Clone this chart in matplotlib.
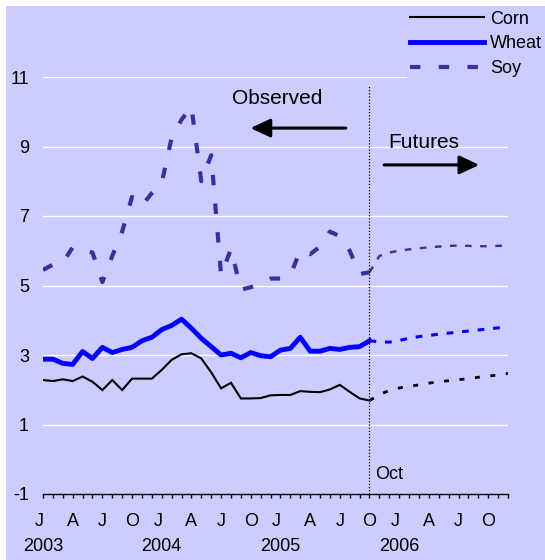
import matplotlib
matplotlib.use("Agg")
import matplotlib.pyplot as plt
from matplotlib.patches import Rectangle

plt.rcParams["font.family"] = ["Liberation Sans", "DejaVu Sans"]
plt.rcParams["axes.unicode_minus"] = False

BG = "#CCCCFF"
SOY = "#333399"
WHEAT = "#0000FF"
CORN = "black"

# months from Jan 2003 (0) to Dec 2006 (47); observed through Oct 2005 (33)
months = list(range(48))
quarter_letters = ["J", "A", "J", "O"]
years = ["2003", "2004", "2005", "2006"]

corn_obs = [2.28, 2.25, 2.30, 2.25, 2.38, 2.23, 1.99, 2.28, 1.99, 2.32, 2.32, 2.32,
            2.57, 2.86, 3.02, 3.05, 2.90, 2.50, 2.04, 2.20, 1.75, 1.75, 1.76, 1.84,
            1.85, 1.85, 1.96, 1.94, 1.93, 2.01, 2.14, 1.94, 1.75, 1.69]
wheat_obs = [2.88, 2.88, 2.76, 2.73, 3.10, 2.90, 3.22, 3.07, 3.16, 3.22, 3.41, 3.51,
             3.73, 3.85, 4.03, 3.77, 3.48, 3.24, 3.00, 3.05, 2.92, 3.07, 2.98, 2.95,
             3.14, 3.19, 3.51, 3.11, 3.11, 3.19, 3.16, 3.22, 3.24, 3.41]
soy_obs = [5.45, 5.60, 5.65, 6.10, 6.00, 5.95, 5.10, 5.85, 6.55, 7.55, 7.30, 7.66,
           7.95, 9.25, 9.77, 10.15, 8.00, 8.75, 5.30, 6.05, 4.88, 4.95, 5.05, 5.20,
           5.20, 5.30, 6.00, 5.90, 6.12, 6.55, 6.42, 6.00, 5.33, 5.38]

# futures, Oct 2005 through Dec 2006
corn_fut = [1.69, 1.86, 1.98, 2.05, 2.10, 2.14, 2.19, 2.23, 2.26, 2.29, 2.32, 2.36, 2.39, 2.43, 2.47]
wheat_fut = [3.41, 3.38, 3.37, 3.42, 3.48, 3.53, 3.56, 3.60, 3.63, 3.66, 3.69, 3.72, 3.75, 3.78, 3.81]
soy_fut = [5.38, 5.85, 5.95, 6.00, 6.04, 6.07, 6.10, 6.12, 6.14, 6.15, 6.14, 6.13, 6.13, 6.14, 6.15]

obs_x = months[:len(corn_obs)]
fut_x = months[len(corn_obs) - 1:]
split = obs_x[-1]


def main():
    fig = plt.figure(figsize=(5.45, 5.6), dpi=100, facecolor="white")
    fig.patches.append(Rectangle((6 / 545, 0), 1, 1 - 6 / 560, transform=fig.transFigure,
                                 facecolor=BG, edgecolor="none", zorder=-10))
    ax = fig.add_axes([43 / 545, 66 / 560, 465 / 545, 417 / 560])
    ax.set_facecolor(BG)
    ax.set_xlim(0, 47)
    ax.set_ylim(-1, 11)

    ax.set_yticks([-1, 1, 3, 5, 7, 9, 11])
    ax.yaxis.grid(True, color="white", lw=1)
    ax.set_axisbelow(True)
    ax.tick_params(axis="y", length=0, pad=10, labelsize=13)
    for s in ["top", "right", "left"]:
        ax.spines[s].set_visible(False)
    ax.spines["bottom"].set_linewidth(1)

    ax.set_xticks(months)
    ax.tick_params(axis="x", direction="out", length=3, width=1, labelbottom=False)

    xt = ax.get_xaxis_transform()
    for m in months:
        if m % 3 == 0:
            shift = -0.4 if m % 12 == 0 else 0
            ax.text(m + shift, -0.067, quarter_letters[(m % 12) // 3], transform=xt,
                    ha="center", va="center", fontsize=13)
        if m % 12 == 0:
            ax.text(m, -0.125, years[m // 12], transform=xt, ha="center", va="center", fontsize=13)

    ax.plot(obs_x, corn_obs, color=CORN, lw=1.5, label="Corn", solid_joinstyle="miter")
    ax.plot(obs_x, wheat_obs, color=WHEAT, lw=3.5, label="Wheat")
    ax.plot(obs_x, soy_obs, color=SOY, lw=3, linestyle=(0, (2.5, 4.4)), label="Soy")

    ax.plot(fut_x, corn_fut, color=CORN, lw=2, linestyle=(0, (1.8, 3.8)))
    ax.plot(fut_x, wheat_fut, color=WHEAT, lw=2.2, linestyle=(0, (2.2, 2.9)))
    ax.plot(fut_x, soy_fut, color=SOY, lw=1.7, linestyle=(0, (2.8, 3.6)))

    ax.plot([split, split], [-1, 10.77], color="black", lw=0.9, linestyle=(0, (1, 1.5)))
    ax.text(split + 0.6, -0.45, "Oct", ha="left", va="center", fontsize=13)

    arrow = dict(arrowstyle="-|>,head_length=0.6,head_width=0.28", color="black",
                 lw=2.2, mutation_scale=20, shrinkA=0, shrinkB=0)
    ax.annotate("", xy=(20.97, 9.53), xytext=(30.6, 9.53), arrowprops=arrow)
    ax.annotate("", xy=(44.1, 8.47), xytext=(34.48, 8.47), arrowprops=arrow)
    ax.text(23.7, 10.37, "Observed", ha="center", va="center", fontsize=15)
    ax.text(38.45, 9.11, "Futures", ha="center", va="center", fontsize=15)

    fig.legend(loc="upper left", bbox_to_anchor=(407 / 545, 1 - 8 / 560), frameon=True,
               facecolor=BG, edgecolor="none", framealpha=1, fontsize=13,
               handlelength=4.1, handletextpad=0.35, labelspacing=0.42,
               borderpad=0.15, borderaxespad=0)

    fig.savefig("out.png", dpi=100, facecolor=fig.get_facecolor())


if __name__ == "__main__":
    main()
